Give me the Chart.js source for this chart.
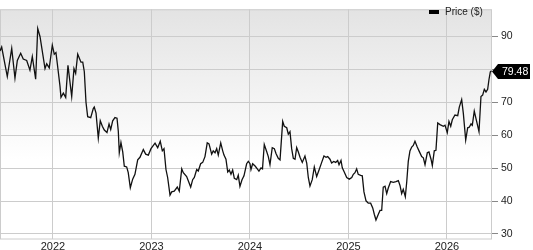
<!DOCTYPE html>
<html><head><meta charset="utf-8">
<script src="https://cdn.jsdelivr.net/npm/chart.js@4.4.1/dist/chart.umd.min.js"></script>
<style>html,body{margin:0;padding:0;background:#fff;}#wrap{width:533px;height:250px;}</style>
</head><body><div id="wrap"><canvas id="c" width="533" height="250"></canvas></div>
<script>
// Dates as decimal years
const dates = [
2021.462,2021.479,2021.536,2021.581,2021.614,2021.638,2021.672,2021.698,2021.733,2021.766,
2021.790,2021.824,2021.845,2021.868,2021.919,2021.936,2021.962,2021.993,2022.013,2022.030,
2022.044,2022.071,2022.081,2022.105,2022.129,2022.152,2022.190,2022.213,2022.230,2022.251,
2022.284,2022.302,2022.318,2022.335,2022.352,2022.383,2022.409,2022.419,2022.437,2022.460,
2022.480,2022.501,2022.521,2022.548,2022.569,2022.586,2022.606,2022.629,2022.650,2022.663,
2022.673,2022.690,2022.708,2022.724,2022.748,2022.764,2022.785,2022.809,2022.832,2022.860,
2022.883,2022.917,2022.941,2022.968,2022.995,2023.036,2023.063,2023.089,2023.110,2023.127,
2023.147,2023.164,2023.188,2023.205,2023.231,2023.262,2023.282,2023.307,2023.323,2023.357,
2023.398,2023.418,2023.435,2023.459,2023.475,2023.499,2023.520,2023.543,2023.566,2023.584,
2023.611,2023.627,2023.645,2023.662,2023.678,2023.703,2023.723,2023.736,2023.756,2023.774,
2023.790,2023.807,2023.824,2023.841,2023.865,2023.881,2023.898,2023.919,2023.939,2023.966,
2023.983,2024.000,2024.010,2024.027,2024.054,2024.074,2024.091,2024.112,2024.127,2024.145,
2024.170,2024.186,2024.203,2024.226,2024.247,2024.264,2024.287,2024.305,2024.332,2024.348,
2024.373,2024.389,2024.406,2024.423,2024.440,2024.457,2024.474,2024.490,2024.508,2024.531,
2024.558,2024.576,2024.592,2024.609,2024.632,2024.653,2024.677,2024.701,2024.728,2024.751,
2024.772,2024.789,2024.812,2024.829,2024.850,2024.870,2024.890,2024.904,2024.924,2024.937,
2024.957,2024.982,2025.008,2025.033,2025.049,2025.066,2025.083,2025.099,2025.124,2025.140,
2025.157,2025.178,2025.201,2025.225,2025.246,2025.262,2025.279,2025.303,2025.320,2025.337,
2025.353,2025.371,2025.388,2025.404,2025.428,2025.455,2025.482,2025.506,2025.523,2025.540,
2025.556,2025.577,2025.591,2025.607,2025.624,2025.642,2025.658,2025.675,2025.698,2025.716,
2025.743,2025.760,2025.777,2025.800,2025.817,2025.838,2025.851,2025.871,2025.888,2025.906,
2025.929,2025.963,2025.980,2026.003,2026.020,2026.038,2026.054,2026.081,2026.109,2026.125,
2026.149,2026.166,2026.190,2026.210,2026.226,2026.244,2026.257,2026.277,2026.301,2026.325,
2026.345,2026.362,2026.379,2026.396,2026.413,2026.426,2026.440,2026.452
];
const prices = [
85.54,86.71,77.76,86.30,77.26,82.62,84.84,83.09,82.62,79.71,
83.79,76.97,92.33,89.91,80.17,81.63,80.38,87.29,84.55,85.04,
81.63,74.84,71.43,72.71,71.43,81.17,71.72,80.17,78.72,84.55,
82.13,82.13,79.21,69.97,65.60,65.31,68.05,68.51,66.68,59.10,
64.34,62.68,61.52,60.76,63.38,61.72,64.34,65.31,65.13,61.22,
54.64,57.73,54.93,50.55,50.35,48.60,44.02,46.65,48.10,52.48,
53.27,55.60,54.23,53.94,55.89,57.55,56.18,58.13,55.22,55.89,
49.56,47.14,41.81,42.77,42.97,44.23,42.97,49.77,48.60,47.43,
44.23,46.47,47.14,49.56,49.10,51.31,51.72,53.47,57.64,57.35,
54.23,55.22,54.64,55.89,53.94,57.64,55.22,53.94,52.68,48.80,
49.39,48.10,49.39,46.85,46.47,47.81,44.43,46.47,47.64,51.31,
52.01,51.31,49.56,51.31,50.55,49.77,49.10,50.06,49.77,57.14,
54.93,53.47,51.02,56.18,55.89,54.43,52.97,52.48,64.14,62.68,
62.22,60.26,61.05,55.89,52.97,52.68,56.18,54.93,53.27,51.72,
53.64,51.52,47.14,44.52,46.47,50.35,47.43,49.39,51.72,53.64,
53.27,53.47,52.68,51.52,52.01,51.72,52.30,51.02,52.30,50.06,
48.80,47.14,46.65,47.14,48.10,48.60,49.77,48.10,47.81,47.64,
42.77,40.06,39.36,39.36,37.90,35.98,34.23,35.98,37.14,37.14,
44.23,44.52,42.27,43.94,45.89,45.69,45.89,46.18,44.72,42.27,
43.56,41.31,45.69,52.01,55.22,56.38,56.85,58.13,56.38,55.22,
53.47,53.12,51.02,54.64,54.87,52.68,50.73,55.22,55.39,63.67,
63.18,62.68,62.97,60.76,64.14,62.68,64.64,66.09,65.89,68.51,
70.76,66.59,58.51,62.22,62.39,63.38,62.97,67.26,64.14,61.05,
71.72,72.13,73.88,73.09,73.88,76.79,79.21,79.48
];
const yearTicks = [2022, 2023, 2024, 2025, 2026];
const priceTicks = [30, 40, 50, 60, 70, 80, 90];
const seriesLabel = 'Price ($)';
const lastPriceLabel = '79.48';

const FONT = '"Liberation Sans", Arial, Helvetica, sans-serif';

const bgPlugin = {
  id: 'bg',
  beforeDraw(chart) {
    const {ctx, chartArea: a} = chart;
    const g = ctx.createLinearGradient(0, a.top, 0, a.top + 150);
    g.addColorStop(0, '#e3e3e3');
    g.addColorStop(1, '#ffffff');
    ctx.save();
    ctx.fillStyle = g;
    ctx.fillRect(a.left, a.top, a.right - a.left, a.bottom - a.top);
    ctx.restore();
  },
  beforeDatasetsDraw(chart) {
    const {ctx, chartArea: a} = chart;
    ctx.save();
    ctx.strokeStyle = '#cccccc';
    ctx.lineWidth = 1;
    ctx.strokeRect(a.left + 0.5, a.top + 0.5, a.right - a.left - 1, a.bottom - a.top - 0.5);
    ctx.restore();
  },
  afterDraw(chart) {
    const {ctx, chartArea: a} = chart;
    const ys = chart.scales.y;
    // legend
    ctx.save();
    ctx.fillStyle = '#000';
    ctx.fillRect(a.right - 63, 10, 10, 4);
    ctx.font = '10px ' + FONT;
    ctx.fillStyle = '#222';
    ctx.textBaseline = 'middle';
    ctx.textAlign = 'left';
    ctx.fillText(chart.data.datasets[0].label, a.right - 47, 12.5);
    // last value tag
    const last = prices[prices.length - 1];
    const y = Math.round(ys.getPixelForValue(last)) + 0.5;
    const x0 = a.right;
    ctx.beginPath();
    ctx.moveTo(x0, y);
    ctx.lineTo(x0 + 6, y - 7.5);
    ctx.lineTo(x0 + 38, y - 7.5);
    ctx.lineTo(x0 + 38, y + 7.5);
    ctx.lineTo(x0 + 6, y + 7.5);
    ctx.closePath();
    ctx.fillStyle = '#000';
    ctx.fill();
    ctx.fillStyle = '#fff';
    ctx.font = '10.5px ' + FONT;
    ctx.textAlign = 'left';
    ctx.fillText(lastPriceLabel, x0 + 10, y + 0.5);
    ctx.restore();
  }
};

new Chart(document.getElementById('c'), {
  type: 'line',
  data: {
    datasets: [{
      label: seriesLabel,
      data: dates.map((d, i) => ({x: d, y: prices[i]})),
      borderColor: '#111',
      borderWidth: 1.3,
      pointRadius: 0,
      tension: 0,
      fill: false
    }]
  },
  options: {
    responsive: false,
    animation: false,
    devicePixelRatio: 1,
    layout: {padding: 0},
    plugins: {legend: {display: false}, tooltip: {enabled: false}},
    scales: {
      x: {
        type: 'linear',
        min: 2021.462,
        max: 2026.457,
        afterBuildTicks: s => { s.ticks = yearTicks.map(v => ({value: v})); },
        afterFit: s => { s.height = 11; },
        ticks: {
          autoSkip: false, maxRotation: 0, padding: 1,
          color: '#222', font: {family: FONT, size: 11},
          callback: v => String(v)
        },
        grid: {color: '#cccccc', drawTicks: false},
        border: {display: false}
      },
      y: {
        type: 'linear',
        position: 'right',
        min: 28.48,
        max: 98.16,
        afterBuildTicks: s => { s.ticks = priceTicks.map(v => ({value: v})); },
        afterFit: s => { s.width = 41; },
        ticks: {
          padding: 3, color: '#222', font: {family: FONT, size: 10.5},
          callback: v => String(v)
        },
        grid: {color: '#cccccc', tickColor: '#888', tickLength: 6},
        border: {display: false}
      }
    }
  },
  plugins: [bgPlugin]
});
</script>
</body></html>
